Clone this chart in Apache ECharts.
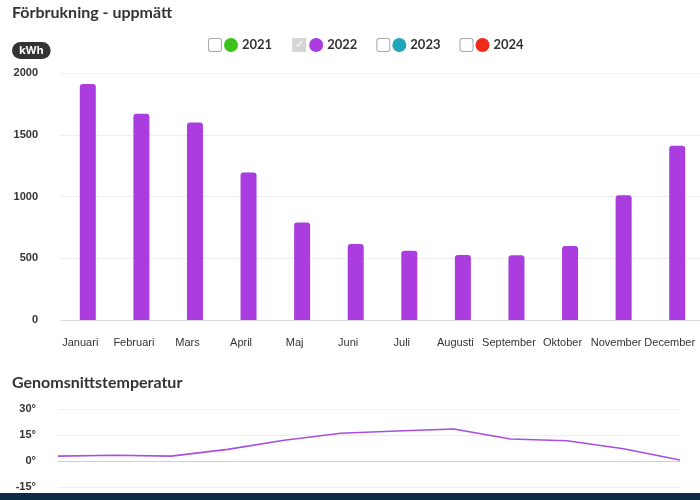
<!DOCTYPE html>
<html><head><meta charset="utf-8">
<script src="https://cdn.jsdelivr.net/npm/echarts@6/dist/echarts.min.js"></script>
<style>html,body{margin:0;padding:0;background:#fff;overflow:hidden;width:700px;height:500px}#c{width:706px;height:500px}</style>
</head><body><div id="c"></div>
<script>
const months = ['Januari','Februari','Mars','April','Maj','Juni','Juli','Augusti','September','Oktober','November','December'];
const years = ['2021','2022','2023','2024'];
const yearColors = ['#3cc21b','#aa3ce0','#1fa6b9','#ee2a1a'];
const consumption2022 = [1910,1670,1600,1195,790,615,560,526,525,600,1010,1410];
const temperature2022 = [2.8,3.3,2.8,6.7,12,16,17.3,18.5,12.7,11.7,7.1,0.6];
const kwhTicks = {min:0, max:2000, interval:500};
const tempTicks = {min:-15, max:30, interval:15};

const rich = {
  box:{width:12,height:12,borderColor:'#a8a8a8',borderWidth:1,borderRadius:2,backgroundColor:'#fff'},
  chk:{width:14,height:14,backgroundColor:'#d6d6d6',color:'#f4f4f4',align:'center',fontSize:11,fontWeight:'bold',lineHeight:14},
  sp:{width:3},
  nm:{fontSize:13,fontWeight:'bold',color:'#333',padding:[0,0,0,4],fontFamily:'Lato'}
};
years.forEach((y,i)=>{ rich['d'+i] = {width:14,height:14,borderRadius:7,backgroundColor:yearColors[i]}; });

const series = years.map((y,i)=>({
  name:y, type:'bar', stack:'all', xAxisIndex:0, yAxisIndex:0,
  data: y==='2022' ? consumption2022 : [],
  barWidth:16, itemStyle:{color:yearColors[i], borderRadius:[3,3,0,0]}
}));
series.push({
  name:'Temperatur', type:'line', xAxisIndex:1, yAxisIndex:1,
  data: temperature2022, showSymbol:false, symbol:'none',
  lineStyle:{color:'#a84fe0', width:1.6}
});

const chart = echarts.init(document.getElementById('c'));
chart.setOption({
  animation:false,
  textStyle:{fontFamily:'Liberation Sans'},
  title:[
    {text:'Förbrukning - uppmätt', left:7, top:0, textStyle:{fontFamily:'Lato',fontWeight:'bold',fontSize:16,color:'#333'}},
    {text:'kWh', left:12, top:42, padding:[3,7,3,7], backgroundColor:'#333', borderRadius:10, textStyle:{color:'#fff',fontSize:11,fontWeight:'bold',fontFamily:'Open Sans'}},
    {text:'Genomsnittstemperatur', left:7, top:370, textStyle:{fontFamily:'Lato',fontWeight:'bold',fontSize:16,color:'#333'}}
  ],
  legend:{
    data: years, left:199, top:33, selectedMode:false, icon:'none', itemWidth:0, itemGap:15,
    formatter: function(name){
      const i = years.indexOf(name);
      const first = name==='2022' ? '{chk|✓}' : '{box|}';
      return first + '{sp|}{d'+i+'|}{nm|'+name+'}';
    },
    textStyle:{rich:rich}
  },
  grid:[
    {left:61, width:643, top:73, bottom:180},
    {left:58, width:622, top:409, bottom:13}
  ],
  xAxis:[
    {type:'category', gridIndex:0, data:months,
     axisLine:{lineStyle:{color:'#d8d8d8'}}, axisTick:{show:false},
     axisLabel:{interval:0, margin:17, color:'#333', fontSize:11, padding:[0,15,0,0]}},
    {type:'category', gridIndex:1, data:months, boundaryGap:false,
     axisLine:{onZero:true, lineStyle:{color:'#cfcfcf'}}, axisTick:{show:false}, axisLabel:{show:false}}
  ],
  yAxis:[
    {type:'value', gridIndex:0, min:kwhTicks.min, max:kwhTicks.max, interval:kwhTicks.interval,
     axisLabel:{color:'#333', fontSize:11, fontWeight:'bold', margin:23, formatter:function(v){return String(v);}},
     splitLine:{lineStyle:{color:'#eeeeee'}}},
    {type:'value', gridIndex:1, min:tempTicks.min, max:tempTicks.max, interval:tempTicks.interval,
     axisLabel:{color:'#333', fontSize:11, fontWeight:'bold', margin:22, formatter:'{value}°'},
     splitLine:{lineStyle:{color:'#eeeeee'}}}
  ],
  graphic:[
    {type:'rect', left:0, bottom:0, shape:{width:706, height:7}, style:{fill:'#0c2b47'}}
  ],
  series: series
});
</script></body></html>
